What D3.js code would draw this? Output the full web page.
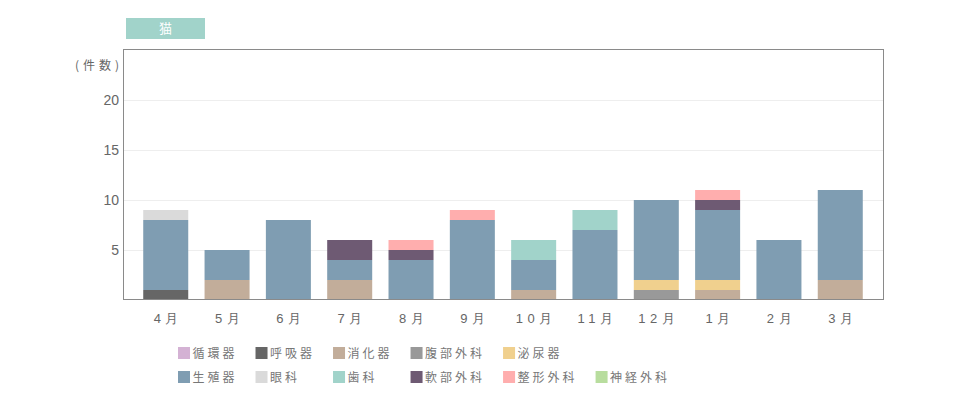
<!DOCTYPE html>
<html>
<head>
<meta charset="utf-8">
<script src="https://cdn.jsdelivr.net/npm/d3@7"></script>
<style>
  body { margin: 0; background: #fff; }
  svg { display: block; font-family: "Noto Sans CJK JP", "Noto Sans", sans-serif; }
</style>
</head>
<body>
<svg id="chart" width="960" height="400"></svg>
<script>
// ---- data ----
const title = "猫";
const yLabel = "(件数)";
const months = ["4月", "5月", "6月", "7月", "8月", "9月", "10月", "11月", "12月", "1月", "2月", "3月"];
const seriesNames = ["循環器", "呼吸器", "消化器", "腹部外科", "泌尿器", "生殖器", "眼科", "歯科", "軟部外科", "整形外科", "神経外科"];
const seriesColors = ["#d4b2d4", "#666666", "#c2ad9a", "#999999", "#f0d08e", "#7f9db2", "#dadada", "#a1d3ca", "#6e5a73", "#ffaeae", "#b8dd9e"];
const junkanki   = [0, 0, 0, 0, 0, 0, 0, 0, 0, 0, 0, 0];
const kokyuki    = [1, 0, 0, 0, 0, 0, 0, 0, 0, 0, 0, 0];
const shokaki    = [0, 2, 0, 2, 0, 0, 1, 0, 0, 1, 0, 2];
const fukubu     = [0, 0, 0, 0, 0, 0, 0, 0, 1, 0, 0, 0];
const hinyoki    = [0, 0, 0, 0, 0, 0, 0, 0, 1, 1, 0, 0];
const seishokuki = [7, 3, 8, 2, 4, 8, 3, 7, 8, 7, 6, 9];
const ganka      = [1, 0, 0, 0, 0, 0, 0, 0, 0, 0, 0, 0];
const shika      = [0, 0, 0, 0, 0, 0, 2, 2, 0, 0, 0, 0];
const nanbu      = [0, 0, 0, 2, 1, 0, 0, 0, 0, 1, 0, 0];
const seikei     = [0, 0, 0, 0, 1, 1, 0, 0, 0, 1, 0, 0];
const shinkei    = [0, 0, 0, 0, 0, 0, 0, 0, 0, 0, 0, 0];
const yTicks = [5, 10, 15, 20];
const yMax = 25;

const seriesValues = [junkanki, kokyuki, shokaki, fukubu, hinyoki, seishokuki, ganka, shika, nanbu, seikei, shinkei];

// ---- layout ----
const svg = d3.select("#chart");
const plot = { left: 123, right: 883, top: 50, bottom: 300 };
const textColor = "#666";

const table = months.map((m, i) => {
  const row = { month: m };
  seriesNames.forEach((s, j) => row[s] = seriesValues[j][i]);
  return row;
});
const stacked = d3.stack().keys(seriesNames)(table);

const x = d3.scaleBand().domain(months).range([plot.left, plot.right]).paddingInner(0.266).paddingOuter(0.33);
const y = d3.scaleLinear().domain([0, yMax]).range([plot.bottom, plot.top]);

// grid
svg.append("g").selectAll("line").data(yTicks).join("line")
  .attr("x1", plot.left).attr("x2", plot.right)
  .attr("y1", d => Math.round(y(d)) + 0.5).attr("y2", d => Math.round(y(d)) + 0.5)
  .attr("stroke", "#eeeeee").attr("stroke-width", 1);

// bars
const color = d3.scaleOrdinal().domain(seriesNames).range(seriesColors);
svg.append("g").selectAll("g").data(stacked).join("g")
  .attr("fill", d => color(d.key))
  .selectAll("rect").data(d => d.filter(p => p[1] - p[0] > 0)).join("rect")
  .attr("x", d => x(d.data.month))
  .attr("width", x.bandwidth())
  .attr("y", d => y(d[1]))
  .attr("height", d => y(d[0]) - y(d[1]));

// frame
svg.append("rect")
  .attr("x", plot.left + 0.5).attr("y", plot.top - 0.5)
  .attr("width", plot.right - plot.left).attr("height", plot.bottom - plot.top)
  .attr("fill", "none").attr("stroke", "#8a8a8a").attr("stroke-width", 1);

// y axis
const yAxis = d3.axisLeft(y).tickValues(yTicks).tickSize(0).tickPadding(4);
const yg = svg.append("g").attr("transform", `translate(${plot.left},0)`).call(yAxis);
yg.select(".domain").remove();
yg.selectAll("text").attr("fill", textColor).style("font-size", "14px")
  .style("font-family", "'Liberation Sans', Arial, sans-serif");

// x axis
const xAxis = d3.axisBottom(x).tickSize(0).tickPadding(14);
const xg = svg.append("g").attr("transform", `translate(0,${plot.bottom})`).call(xAxis);
xg.select(".domain").remove();
xg.selectAll("text").attr("fill", textColor).style("font-size", "13px")
  .style("letter-spacing", "4.5px").attr("dx", "2.5px");

// y label
svg.append("text").attr("x", 75).attr("y", 70).attr("fill", textColor)
  .style("font-size", "12px").style("letter-spacing", "4px").text(yLabel);

// title tag
svg.append("rect").attr("x", 126).attr("y", 18).attr("width", 79).attr("height", 21).attr("fill", "#a1d3ca");
svg.append("text").attr("x", 165.5).attr("y", 33).attr("text-anchor", "middle")
  .attr("fill", "#fff").style("font-size", "13px").text(title);

// legend (table-like: 2 rows, 6 columns)
const cols = 6;
const legendRows = [353, 377];
const swatch = 12;
const lg = svg.append("g");
const measure = lg.append("text").style("font-size", "12px").style("letter-spacing", "3px");
const widths = seriesNames.map(n => { measure.text(n); return measure.node().getComputedTextLength(); });
measure.remove();
// items: row 1 has 5 items, row 2 has 6 items
const positions = seriesNames.map((n, i) => i < 5 ? { r: 0, c: i } : { r: 1, c: i - 5 });
const colX = [178];
for (let c = 1; c < cols; c++) {
  const prev = positions.map((p, i) => p.c === c - 1 ? widths[i] : 0);
  colX[c] = colX[c - 1] + swatch + 2.5 + d3.max(prev) + 18;
}
const items = lg.selectAll("g").data(seriesNames).join("g")
  .attr("transform", (d, i) => `translate(${colX[positions[i].c]},${legendRows[positions[i].r]})`);
items.append("rect").attr("x", 0).attr("y", -6).attr("width", swatch).attr("height", swatch)
  .attr("fill", (d, i) => seriesColors[i]);
items.append("text").attr("x", swatch + 2.5).attr("y", 4.5).attr("fill", "#777")
  .style("font-size", "12px").style("letter-spacing", "3px").text(d => d);
</script>
</body>
</html>
